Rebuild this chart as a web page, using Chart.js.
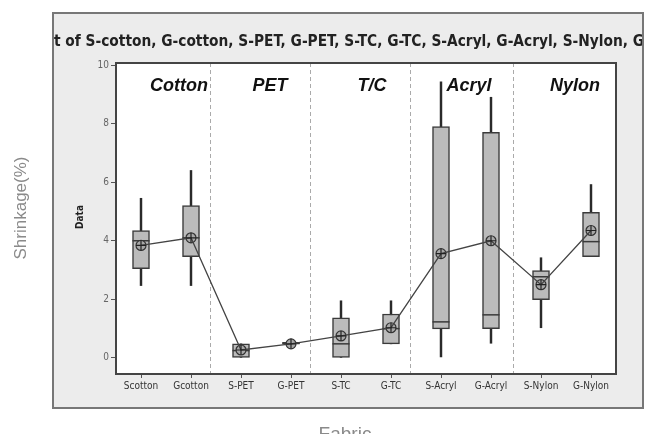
<!DOCTYPE html>
<html>
<head>
<meta charset="utf-8">
<script src="https://cdn.jsdelivr.net/npm/chart.js@4/dist/chart.umd.min.js"></script>
<style>
  html, body { margin: 0; padding: 0; background: #fff; }
  #wrap { width: 655px; height: 434px; position: relative; }
</style>
</head>
<body>
<div id="wrap"><canvas id="boxChart" width="655" height="434"></canvas></div>
<script>
// chart data
const categories = ['Scotton', 'Gcotton', 'S-PET', 'G-PET', 'S-TC', 'G-TC', 'S-Acryl', 'G-Acryl', 'S-Nylon', 'G-Nylon'];
const whiskerLow  = [2.47, 2.47, 0.00, 0.47, 0.00, 0.48, 0.03, 0.50, 1.03, 3.46];
const q1          = [3.05, 3.46, 0.00, 0.47, 0.00, 0.48, 0.99, 1.00, 1.99, 3.46];
const median      = [4.00, 4.10, 0.25, 0.50, 0.48, 1.00, 1.23, 1.47, 2.77, 3.97];
const q3          = [4.35, 5.20, 0.48, 0.53, 1.37, 1.50, 7.90, 7.70, 2.98, 4.97];
const whiskerHigh = [5.45, 6.40, 0.48, 0.53, 1.95, 1.95, 9.43, 8.90, 3.42, 5.92];
const means       = [3.84, 4.10, 0.27, 0.48, 0.75, 1.03, 3.56, 4.00, 2.50, 4.35];

const yTicks = [0, 2, 4, 6, 8, 10];
const groupNames = ['Cotton', 'PET', 'T/C', 'Acryl', 'Nylon'];
const groupCenters = [0.76, 2.58, 4.62, 6.56, 8.68];   // in category units
const dividers = [1.37, 3.38, 5.37, 7.44];             // in category units

const titleText = 'Boxplot of S-cotton, G-cotton, S-PET, G-PET, S-TC, G-TC, S-Acryl, G-Acryl, S-Nylon, G-Nylon';

// panel + texts drawn around the plot
const decorPlugin = {
    id: 'decor',
    beforeDraw(chart) {
        const ctx = chart.ctx;
        const a = chart.chartArea;
        ctx.save();
        ctx.fillStyle = '#fff';
        ctx.fillRect(0, 0, chart.width, chart.height);
        // grey panel
        ctx.fillStyle = '#ececec';
        ctx.fillRect(53, 13, 590, 395);
        ctx.strokeStyle = '#777';
        ctx.lineWidth = 2;
        ctx.strokeRect(53, 13, 590, 395);
        // plot area
        ctx.fillStyle = '#fff';
        ctx.fillRect(a.left, a.top, a.right - a.left, a.bottom - a.top);

        // title, clipped by the panel
        ctx.save();
        ctx.beginPath();
        ctx.rect(54, 14, 588, 393);
        ctx.clip();
        ctx.font = 'bold 16px "Liberation Sans Narrow", "DejaVu Sans Condensed", sans-serif';
        ctx.fillStyle = '#222';
        ctx.textBaseline = 'middle';
        const lead = ctx.measureText('Boxplo').width;
        const shown = ctx.measureText('t of S-cotton, G-cotton, S-PET, G-PET, S-TC, G-TC, S-Acryl, G-Acryl, S-Nylon, G').width;
        const sx = 590 / shown;
        ctx.translate(54, 42);
        ctx.scale(sx, 1);
        ctx.fillText(titleText, -lead, 0);
        ctx.restore();

        // "Data" axis label
        ctx.save();
        ctx.translate(80, 217);
        ctx.rotate(-Math.PI / 2);
        ctx.font = 'bold 10px "DejaVu Sans Condensed", sans-serif';
        ctx.fillStyle = '#222';
        ctx.textAlign = 'center';
        ctx.textBaseline = 'middle';
        ctx.fillText('Data', 0, 0);
        ctx.restore();

        // outer labels
        ctx.save();
        ctx.translate(21, 208);
        ctx.rotate(-Math.PI / 2);
        ctx.font = '17px "Liberation Sans", Arial, sans-serif';
        ctx.fillStyle = '#8a8a8a';
        ctx.textAlign = 'center';
        ctx.textBaseline = 'middle';
        ctx.fillText('Shrinkage(%)', 0, 0);
        ctx.restore();

        ctx.font = '19px "Liberation Sans", Arial, sans-serif';
        ctx.fillStyle = '#8a8a8a';
        ctx.textAlign = 'center';
        ctx.textBaseline = 'top';
        ctx.fillText('Fabric', 345, 425);

        // dashed group dividers
        const xs = chart.scales.x;
        ctx.strokeStyle = '#aaa';
        ctx.lineWidth = 1;
        ctx.setLineDash([4, 3]);
        dividers.forEach(d => {
            const px = Math.round(xs.getPixelForValue(d)) + 0.5;
            ctx.beginPath();
            ctx.moveTo(px, a.top);
            ctx.lineTo(px, a.bottom);
            ctx.stroke();
        });
        ctx.setLineDash([]);

        // group names
        ctx.font = 'italic bold 18px "Liberation Sans", Arial, sans-serif';
        ctx.fillStyle = '#111';
        ctx.textAlign = 'center';
        ctx.textBaseline = 'middle';
        groupNames.forEach((g, i) => {
            ctx.fillText(g, xs.getPixelForValue(groupCenters[i]), 86);
        });
        ctx.restore();
    },
    afterDraw(chart) {
        const ctx = chart.ctx;
        const a = chart.chartArea;
        ctx.save();
        ctx.strokeStyle = '#444';
        ctx.lineWidth = 2;
        ctx.strokeRect(a.left, a.top, a.right - a.left, a.bottom - a.top);
        ctx.restore();
    }
};

const boxRanges = categories.map((c, i) => [q1[i], q3[i]]);
const whiskerRanges = categories.map((c, i) => [whiskerLow[i], whiskerHigh[i]]);

new Chart(document.getElementById('boxChart'), {
    data: {
        labels: categories,
        datasets: [
            {
                type: 'line',
                data: means,
                borderColor: '#444',
                borderWidth: 1.3,
                pointStyle: 'cross',
                pointRadius: 5,
                pointBorderColor: '#222',
                pointBorderWidth: 1.2,
                order: 0
            },
            {
                type: 'line',
                data: means,
                showLine: false,
                pointStyle: 'circle',
                pointRadius: 5,
                pointBackgroundColor: '#a8a8a8',
                pointBorderColor: '#333',
                pointBorderWidth: 1.2,
                order: 1
            },
            {
                type: 'line',
                data: median,
                showLine: false,
                pointStyle: 'line',
                pointRadius: 8.5,
                pointBorderColor: '#3a3a3a',
                pointBorderWidth: 1.5,
                order: 2
            },
            {
                type: 'bar',
                data: boxRanges,
                backgroundColor: '#bbbbbb',
                borderColor: '#3a3a3a',
                borderWidth: 1.5,
                borderSkipped: false,
                barThickness: 17,
                grouped: false,
                order: 3
            },
            {
                type: 'bar',
                data: whiskerRanges,
                backgroundColor: '#2a2a2a',
                borderWidth: 0,
                barThickness: 1.8,
                grouped: false,
                order: 4
            }
        ]
    },
    options: {
        responsive: false,
        animation: false,
        layout: { padding: { left: 0, right: 39, top: 63, bottom: 0 } },
        plugins: { legend: { display: false }, tooltip: { enabled: false } },
        scales: {
            x: {
                type: 'category',
                offset: true,
                grid: { drawOnChartArea: false, offset: false, tickLength: 4, color: '#555' },
                border: { display: false },
                ticks: {
                    color: '#333',
                    padding: 2,
                    maxRotation: 0,
                    autoSkip: false,
                    font: { family: '"DejaVu Sans Condensed", sans-serif', size: 10 }
                },
                afterFit(scale) { scale.height = 60; }
            },
            y: {
                min: -0.55,
                max: 10.07,
                grid: { drawOnChartArea: false, tickLength: 5, color: '#555' },
                border: { display: false },
                ticks: {
                    color: '#666',
                    padding: 2,
                    font: { family: '"DejaVu Sans Condensed", sans-serif', size: 10 }
                },
                afterBuildTicks(scale) { scale.ticks = yTicks.map(v => ({ value: v })); },
                afterFit(scale) { scale.width = 116; }
            }
        }
    },
    plugins: [decorPlugin]
});
</script>
</body>
</html>
